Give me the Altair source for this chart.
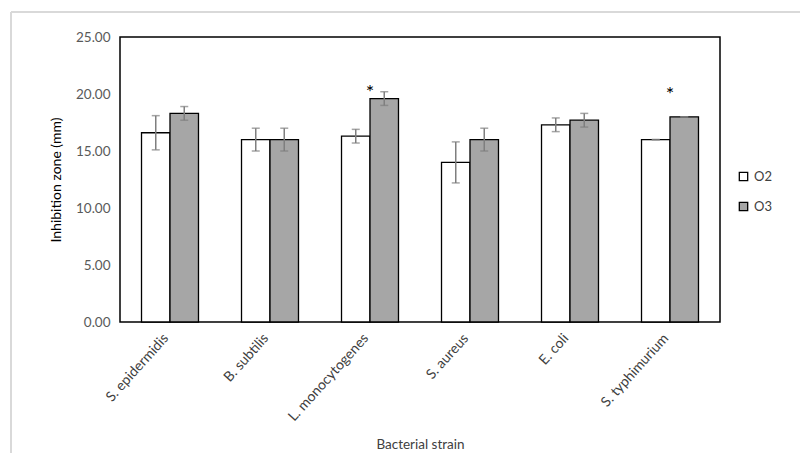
import altair as alt
import pandas as pd

strains = ["S. epidermidis", "B. subtilis", "L. monocytogenes", "S. aureus", "E. coli", "S. typhimurium"]
series = ["O2", "O3"]
o2_mean = [16.6, 16.0, 16.3, 14.0, 17.3, 16.0]
o2_err = [1.5, 1.0, 0.6, 1.8, 0.6, 0.0]
o3_mean = [18.3, 16.0, 19.6, 16.0, 17.7, 18.0]
o3_err = [0.6, 1.0, 0.6, 1.0, 0.6, 0.0]
star_strains = ["L. monocytogenes", "S. typhimurium"]
star_y = [20.1, 19.9]
y_ticks = [0, 5, 10, 15, 20, 25]

rows = []
for i, s in enumerate(strains):
    rows.append({"strain": s, "series": "O2", "mean": o2_mean[i],
                 "lo": o2_mean[i] - o2_err[i], "hi": o2_mean[i] + o2_err[i]})
    rows.append({"strain": s, "series": "O3", "mean": o3_mean[i],
                 "lo": o3_mean[i] - o3_err[i], "hi": o3_mean[i] + o3_err[i]})
df = pd.DataFrame(rows)
stars = pd.DataFrame({"strain": star_strains, "y": star_y})

FONT = "Lato"

x_enc = alt.X("strain:N", sort=strains,
              scale=alt.Scale(paddingInner=0, paddingOuter=0),
              axis=alt.Axis(title="Bacterial strain", labelAngle=-48, labelAlign="right",
                            labelBaseline="top", labelPadding=9, labelOffset=-9, ticks=False,
                            domain=False, labelFontSize=14, labelColor="#404040",
                            titleFontSize=13.5, titleColor="#404040", titleFontWeight="normal",
                            titlePadding=14, labelFont=FONT, titleFont=FONT))
xo_enc = alt.XOffset("series:N", scale=alt.Scale(domain=series, paddingInner=0, paddingOuter=0.755))
y_scale = alt.Scale(domain=[0, 25], nice=False)

bars = alt.Chart(df).mark_bar(stroke="black", strokeWidth=1.3).encode(
    x=x_enc,
    xOffset=xo_enc,
    y=alt.Y("mean:Q", scale=y_scale,
            axis=alt.Axis(title="Inhibition zone (mm)", values=y_ticks, format=".2f", grid=False,
                          ticks=False, domain=False, labelPadding=10, labelFontSize=13.5,
                          labelColor="#595959", titleFontSize=14, titleColor="black",
                          titleFontWeight="normal", titlePadding=12, labelFont=FONT, titleFont=FONT)),
    color=alt.Color("series:N", scale=alt.Scale(domain=series, range=["white", "#a6a6a6"]),
                    legend=alt.Legend(title=None, orient="none", legendX=617, legendY=133,
                                      symbolType="square", symbolSize=70,
                                      symbolStrokeColor="black", symbolStrokeWidth=1.3,
                                      labelFontSize=13, labelColor="#404040", labelFont=FONT,
                                      rowPadding=15, padding=0)),
)

err = alt.Chart(df).mark_rule(color="#7f7f7f", strokeWidth=1.5).encode(
    x=alt.X("strain:N", sort=strains), xOffset=alt.XOffset("series:N"),
    y=alt.Y("lo:Q", scale=y_scale), y2="hi:Q")
cap_lo = alt.Chart(df).mark_tick(color="#7f7f7f", thickness=1.5, size=8, orient="horizontal").encode(
    x=alt.X("strain:N", sort=strains), xOffset=alt.XOffset("series:N"),
    y=alt.Y("lo:Q", scale=y_scale))
cap_hi = alt.Chart(df).mark_tick(color="#7f7f7f", thickness=1.5, size=8, orient="horizontal").encode(
    x=alt.X("strain:N", sort=strains), xOffset=alt.XOffset("series:N"),
    y=alt.Y("hi:Q", scale=y_scale))

star = alt.Chart(stars).mark_text(text="*", fontSize=20, baseline="middle", color="black",
                                  font=FONT).encode(
    x=alt.X("strain:N", sort=strains), y=alt.Y("y:Q", scale=y_scale))

frame_top = alt.Chart(pd.DataFrame({"a": [0]})).mark_rule(color="#d9d9d9", strokeWidth=2).encode(
    x=alt.value(-109), x2=alt.value(690), y=alt.value(-25))
frame_left = alt.Chart(pd.DataFrame({"a": [0]})).mark_rule(color="#d9d9d9", strokeWidth=2).encode(
    x=alt.value(-109), y=alt.value(-25), y2=alt.value(420))

chart = alt.layer(frame_top, frame_left, bars, err, cap_lo, cap_hi, star).properties(
    width=600, height=285,
    background="white",
    autosize=alt.AutoSizeParams(type="none"),
    padding={"left": 112, "top": 29, "right": 80, "bottom": 131},
).configure_view(stroke="black", strokeWidth=1.5)

chart.save("out.html", embed_options={"renderer": "svg", "actions": False})
